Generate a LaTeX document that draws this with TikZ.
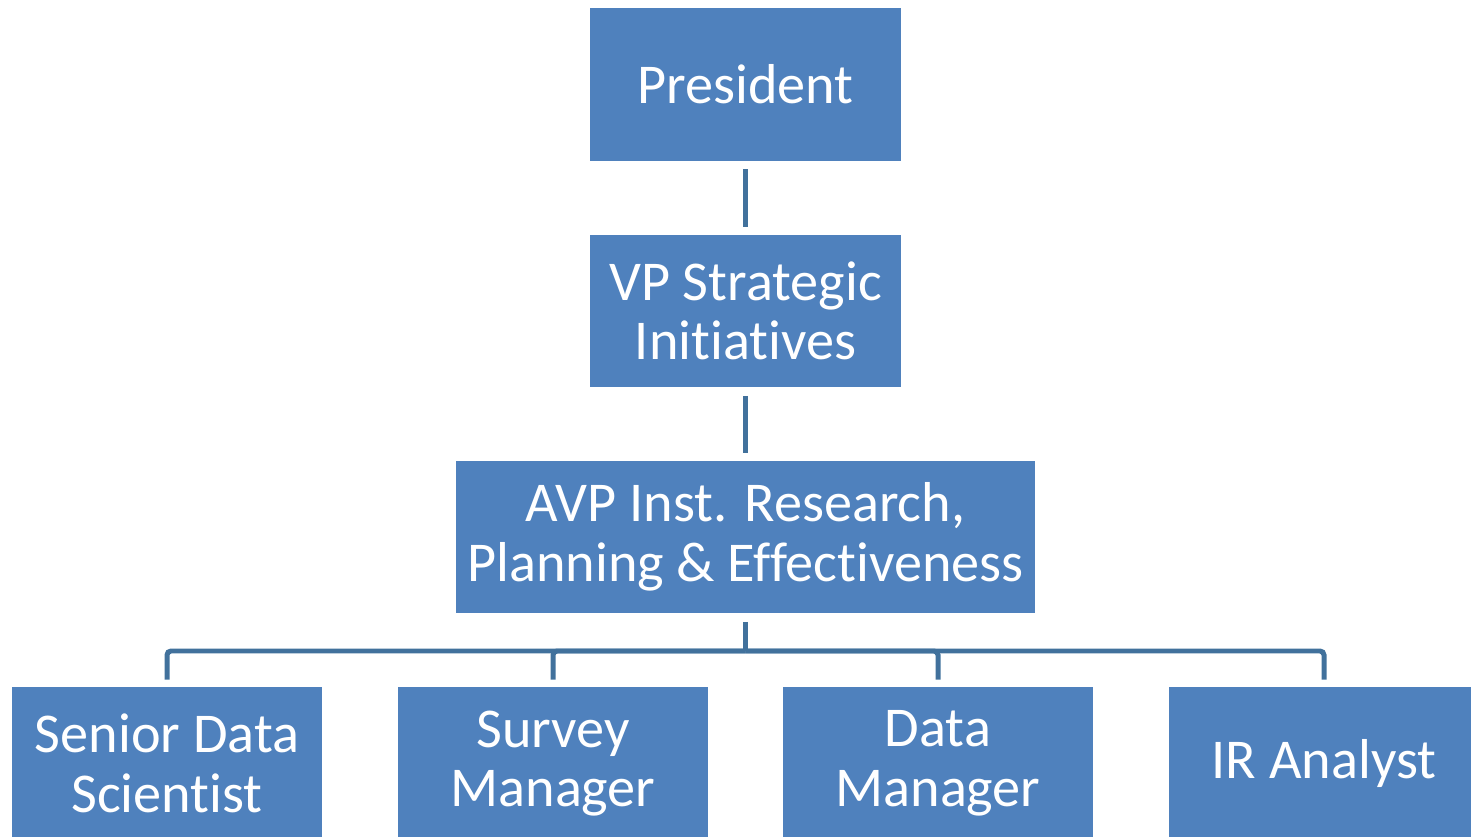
\documentclass[tikz,border=0pt]{standalone}
\usepackage{fontspec}
\setmainfont{Carlito}[Ligatures=NoCommon]
\usepackage{tikz}
\usetikzlibrary{positioning}

\definecolor{boxblue}{HTML}{4F81BD}
\definecolor{lineblue}{HTML}{41719C}

\begin{document}
\begin{tikzpicture}
			[x=0.02cm,y=-0.02cm,
			 unit/.style={rectangle,fill=boxblue,text=white,align=center,
			   minimum width=6.22cm,minimum height=3.06cm,inner sep=0pt,
			   font=\fontsize{32}{34}\selectfont},
			 conn/.style={draw=lineblue,line width=0.1cm,rounded corners=0.08cm}]
			\useasboundingbox (0,0) rectangle (1471,837);
			\clip (0,0) rectangle (1471,837);
			\node[unit] (pres) at (745.5,84.5) {President};
			\node[unit] (vp) at (745.5,311) {VP Strategic\\Initiatives};
			\node[unit,minimum width=11.58cm] (avp) at (745.5,537) {AVP Inst. Research,\\Planning \& Effectiveness};
			\node[unit] (sds) at (167,763.5) {Senior Data\\Scientist};
			\node[unit] (sm) at (553,763.5) {Survey\\Manager};
			\node[unit] (dm) at (938,763.5) {Data\\Manager};
			\node[unit] (ira) at (1324,763.5) {IR Analyst};
			\coordinate (bus) at (745.5,651);
			
			\draw[conn,shorten <=0.16cm,shorten >=0.14cm] (pres) -- (vp);
			\draw[conn,shorten <=0.16cm,shorten >=0.14cm] (vp) -- (avp);
			\draw[conn,shorten <=0.16cm] (avp) -- (bus);
			\foreach \to in {sds, sm, dm, ira}
			\draw[conn,shorten >=0.14cm] (bus) -| (\to);
			\end{tikzpicture}
\end{document}
